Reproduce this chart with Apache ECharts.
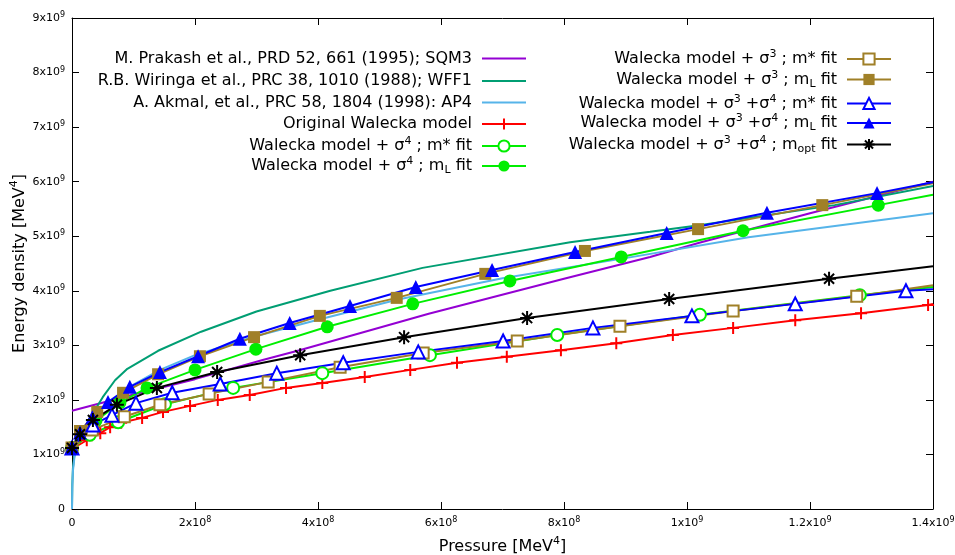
<!DOCTYPE html>
<html><head><meta charset="utf-8">
<script src="https://cdn.jsdelivr.net/npm/echarts@6/dist/echarts.min.js"></script>
<style>html,body{margin:0;padding:0;background:#fff}#c{width:955px;height:555px}</style>
</head><body><div id="c"></div>
<script>
// Values. Pressure and energy density both in units of 1e9 MeV^4.
const sqm3 = [[0,1.80],[0.10,2.10],[0.20,2.38],[0.31,2.73],[0.37,2.91],[0.58,3.58],[0.80,4.22],[0.94,4.62],[1.02,4.88],[1.20,5.42],[1.40,6.00]];
const wff1 = [[0,0],[0.0005,0.45],[0.0015,0.75],[0.004,1.0],[0.01,1.25],[0.02,1.48],[0.03,1.68],[0.05,2.05],[0.07,2.36],[0.09,2.57],[0.14,2.90],[0.21,3.25],[0.30,3.62],[0.42,4.0],[0.57,4.42],[0.81,4.89],[0.94,5.08],[1.02,5.2],[1.24,5.57],[1.40,5.92]];
const ap4 = [[0,0],[0.0005,0.4],[0.0015,0.7],[0.004,0.95],[0.01,1.2],[0.02,1.45],[0.05,1.85],[0.1,2.28],[0.143,2.55],[0.2,2.82],[0.3,3.17],[0.4,3.47],[0.53,3.84],[0.7,4.23],[0.89,4.58],[1.1,4.98],[1.4,5.42]];

const walecka = [[0,1.10],[0.024,1.26],[0.046,1.39],[0.062,1.50],[0.080,1.58],[0.114,1.67],[0.148,1.78],[0.192,1.89],[0.237,2.00],[0.289,2.09],[0.348,2.22],[0.407,2.31],[0.476,2.42],[0.550,2.55],[0.626,2.68],[0.707,2.79],[0.795,2.91],[0.885,3.04],[0.977,3.19],[1.075,3.32],[1.176,3.46],[1.283,3.59],[1.392,3.74]];
const waleckaEnd = [1.4,3.76];
const s4mStar = [[0,1.12],[0.029,1.36],[0.075,1.59],[0.151,1.92],[0.262,2.22],[0.407,2.49],[0.582,2.82],[0.789,3.19],[1.021,3.56],[1.281,3.92]];
const s4mStarEnd = [1.4,4.07];
const s4mL = [[0,1.12],[0.039,1.62],[0.078,1.95],[0.122,2.22],[0.2,2.55],[0.299,2.93],[0.415,3.34],[0.554,3.76],[0.712,4.18],[0.893,4.62],[1.091,5.10],[1.311,5.57]];
const s4mLEnd = [1.4,5.76];
const s3mStar = [[0,1.12],[0.033,1.45],[0.085,1.69],[0.143,1.91],[0.223,2.11],[0.319,2.33],[0.436,2.60],[0.571,2.86],[0.724,3.08],[0.891,3.35],[1.075,3.63],[1.276,3.90]];
const s3mStarEnd = [1.4,4.10];
const s3mL = [[0,1.12],[0.013,1.43],[0.041,1.78],[0.083,2.13],[0.140,2.47],[0.208,2.80],[0.296,3.15],[0.403,3.54],[0.528,3.87],[0.672,4.31],[0.834,4.73],[1.018,5.13],[1.220,5.57]];
const s3mLEnd = [1.4,5.97];
const s34mStar = [[0,1.12],[0.034,1.54],[0.065,1.72],[0.104,1.94],[0.163,2.13],[0.241,2.29],[0.333,2.49],[0.441,2.68],[0.563,2.88],[0.701,3.08],[0.847,3.32],[1.008,3.54],[1.176,3.76],[1.356,4.00]];
const s34mStarEnd = [1.4,4.03];
const s34mL = [[0,1.12],[0.013,1.40],[0.033,1.68],[0.0585,1.96],[0.094,2.24],[0.143,2.51],[0.205,2.80],[0.273,3.12],[0.354,3.41],[0.452,3.72],[0.559,4.07],[0.683,4.38],[0.818,4.71],[0.967,5.06],[1.130,5.43],[1.309,5.79]];
const s34mLEnd = [1.4,5.99];
const s34mOpt = [[0,1.12],[0.013,1.37],[0.034,1.63],[0.073,1.91],[0.138,2.22],[0.236,2.51],[0.371,2.82],[0.540,3.15],[0.740,3.50],[0.971,3.85],[1.231,4.22]];
const s34mOptEnd = [1.4,4.45];

const xTicks = {min:0, max:1.4e9, step:2e8};
const yTicks = {min:0, max:9e9, step:1e9};

const UNIT = 1e9;
const FONT = 'DejaVu Sans';
const C = {purple:'#9400d3', teal:'#009e73', sky:'#56b4e9', red:'#ff0000', green:'#00ee00', brown:'#a08028', blue:'#0000ff', black:'#000000'};

const legendText = {
  'SQM3': '{t|M. Prakash et al., PRD 52, 661 (1995); SQM3}{g| }',
  'WFF1': '{t|R.B. Wiringa et al., PRC 38, 1010 (1988); WFF1}{g| }',
  'AP4': '{t|A. Akmal, et al., PRC 58, 1804 (1998): AP4}{g| }',
  'OW': '{t|Original Walecka model}{g| }',
  'S4MS': '{t|Walecka model + σ}{sup|4}{t| ; m* fit}{g| }',
  'S4ML': '{t|Walecka model + σ}{sup|4}{t| ; m}{sub|L}{t| fit}{g| }',
  'S3MS': '{t|Walecka model + σ}{sup|3}{t| ; m* fit}{g| }',
  'S3ML': '{t|Walecka model + σ}{sup|3}{t| ; m}{sub|L}{t| fit}{g| }',
  'S34MS': '{t|Walecka model + σ}{sup|3}{t| +σ}{sup|4}{t| ; m* fit}{g| }',
  'S34ML': '{t|Walecka model + σ}{sup|3}{t| +σ}{sup|4}{t| ; m}{sub|L}{t| fit}{g| }',
  'S34MO': '{t|Walecka model + σ}{sup|3}{t| +σ}{sup|4}{t| ; m}{sub|opt}{t| fit}{g| }'
};
const leftNames = ['SQM3','WFF1','AP4','OW','S4MS','S4ML'];
const rightNames = ['S3MS','S3ML','S34MS','S34ML','S34MO'];
const leftRows = [57, 79.5, 101, 122.5, 144, 165.5];
const rightRows = [57, 79, 101.5, 122.5, 144];
const noMarkerLegend = ['SQM3','WFF1','AP4'];

const legRich = {
  t:{fontFamily:FONT, fontSize:16, lineHeight:20, color:'#000'},
  sup:{fontFamily:FONT, fontSize:11, lineHeight:10, verticalAlign:'top', color:'#000'},
  sub:{fontFamily:FONT, fontSize:11, lineHeight:10, verticalAlign:'bottom', color:'#000'},
  g:{fontFamily:FONT, fontSize:16, lineHeight:20, width:5}
};

function sci(v){
  if (v === 0) return '{b|0}';
  const e = Math.floor(Math.log10(v) + 1e-9);
  const m = Math.round(v / Math.pow(10, e) * 10) / 10;
  return '{b|' + m + 'x10}{s|' + e + '}';
}
const tickRich = {
  b:{fontFamily:FONT, fontSize:11, lineHeight:14, color:'#000'},
  s:{fontFamily:FONT, fontSize:8, lineHeight:8, verticalAlign:'top', color:'#000'}
};
const nameRich = {
  t:{fontFamily:FONT, fontSize:16, lineHeight:22, color:'#000'},
  s:{fontFamily:FONT, fontSize:11, lineHeight:12, verticalAlign:'top', color:'#000'}
};

function toData(arr){ return arr.map(p => [p[0]*UNIT, p[1]*UNIT]); }
function marked(arr, end){
  const d = arr.map(p => ({value:[p[0]*UNIT, p[1]*UNIT]}));
  d.push({value:[end[0]*UNIT, end[1]*UNIT], symbol:'none'});
  return d;
}

const PLUS = 'path://M0,-1L0,1M-1,0L1,0';
const STAR = 'path://M0,-1L0,1M-1,0L1,0M-0.72,-0.72L0.72,0.72M-0.72,0.72L0.72,-0.72';

function model(name, data, color){
  return {name, type:'line', data:toData(data), symbol:'none', showSymbol:false, smooth:false,
    lineStyle:{color, width:2}, itemStyle:{color}, z:2};
}
function markSeries(name, data, end, color, symbol, size, extra){
  return {name, type:'line', data:marked(data, end), symbol, symbolSize:size, showSymbol:true, showAllSymbol:true,
    smooth:false, lineStyle:{color, width:2},
    itemStyle:Object.assign({color, borderColor:color, borderWidth:0}, extra||{}), z:3};
}

const series = [
  model('SQM3', sqm3, C.purple),
  model('WFF1', wff1, C.teal),
  model('AP4', ap4, C.sky),
  markSeries('OW', walecka, waleckaEnd, C.red, PLUS, 12, {borderWidth:2}),
  markSeries('S4MS', s4mStar, s4mStarEnd, C.green, 'emptyCircle', 12, {borderWidth:2}),
  markSeries('S4ML', s4mL, s4mLEnd, C.green, 'circle', 13),
  markSeries('S3MS', s3mStar, s3mStarEnd, C.brown, 'emptyRect', 11, {borderWidth:2}),
  markSeries('S3ML', s3mL, s3mLEnd, C.brown, 'rect', 12),
  markSeries('S34MS', s34mStar, s34mStarEnd, C.blue, 'emptyTriangle', 13, {borderWidth:2}),
  markSeries('S34ML', s34mL, s34mLEnd, C.blue, 'triangle', 14),
  markSeries('S34MO', s34mOpt, s34mOptEnd, C.black, STAR, 14, {borderWidth:2})
];

// one legend component per row so each row sits where the reference puts it;
// rows whose text carries a superscript or subscript have a taller box
function rowOffset(name){
  const t = legendText[name];
  if (t.indexOf('{sub|') >= 0) return 9.5;
  if (t.indexOf('{sup|') >= 0) return 8;
  return 6.5;
}
function legendRow(name, centerY, iconRight){
  const item = {name};
  if (noMarkerLegend.indexOf(name) >= 0) item.itemStyle = {color:'rgba(0,0,0,0)', borderWidth:0, opacity:0};
  return {
    data:[item], orient:'vertical', right:955 - iconRight, top:centerY - rowOffset(name), padding:0, align:'right',
    itemWidth:44, itemHeight:14, selectedMode:false,
    formatter: n => legendText[n],
    textStyle:{rich:legRich, fontFamily:FONT, fontSize:16, color:'#000'}
  };
}
const legends = leftNames.map((n,i) => legendRow(n, leftRows[i], 527)).concat(rightNames.map((n,i) => legendRow(n, rightRows[i], 892)));

const axisCommon = {
  type:'value', splitLine:{show:false},
  axisLine:{show:true, onZero:false, lineStyle:{color:'#000', width:1}},
  axisTick:{show:true, inside:true, length:7, lineStyle:{color:'#000', width:1}}
};

const option = {
  animation:false,
  backgroundColor:'#fff',
  grid:{left:72, right:22, top:18, bottom:46, outerBoundsMode:'none', containLabel:false},
  legend:legends,
  xAxis:[
    Object.assign({}, axisCommon, {position:'bottom', min:xTicks.min, max:xTicks.max, interval:xTicks.step,
      axisLabel:{formatter:sci, margin:7, rich:tickRich, fontFamily:FONT, fontSize:11, color:'#000'},
      name:'{t|Pressure [MeV}{s|4}{t|]}', nameLocation:'middle', nameGap:27, nameMoveOverlap:false, nameTextStyle:{rich:nameRich}}),
    Object.assign({}, axisCommon, {position:'top', min:xTicks.min, max:xTicks.max, interval:xTicks.step, axisLabel:{show:false}})
  ],
  yAxis:[
    Object.assign({}, axisCommon, {position:'left', min:yTicks.min, max:yTicks.max, interval:yTicks.step,
      axisLabel:{formatter:sci, margin:7, rich:tickRich, fontFamily:FONT, fontSize:11, color:'#000'},
      name:'{t|Energy density [MeV}{s|4}{t|]}', nameLocation:'middle', nameRotate:90, nameGap:41, nameMoveOverlap:false, nameTextStyle:{rich:nameRich}}),
    Object.assign({}, axisCommon, {position:'right', min:yTicks.min, max:yTicks.max, interval:yTicks.step, axisLabel:{show:false}})
  ],
  series
};

const chart = echarts.init(document.getElementById('c'), null, {renderer:'canvas'});
chart.setOption(option);
</script>
</body></html>
